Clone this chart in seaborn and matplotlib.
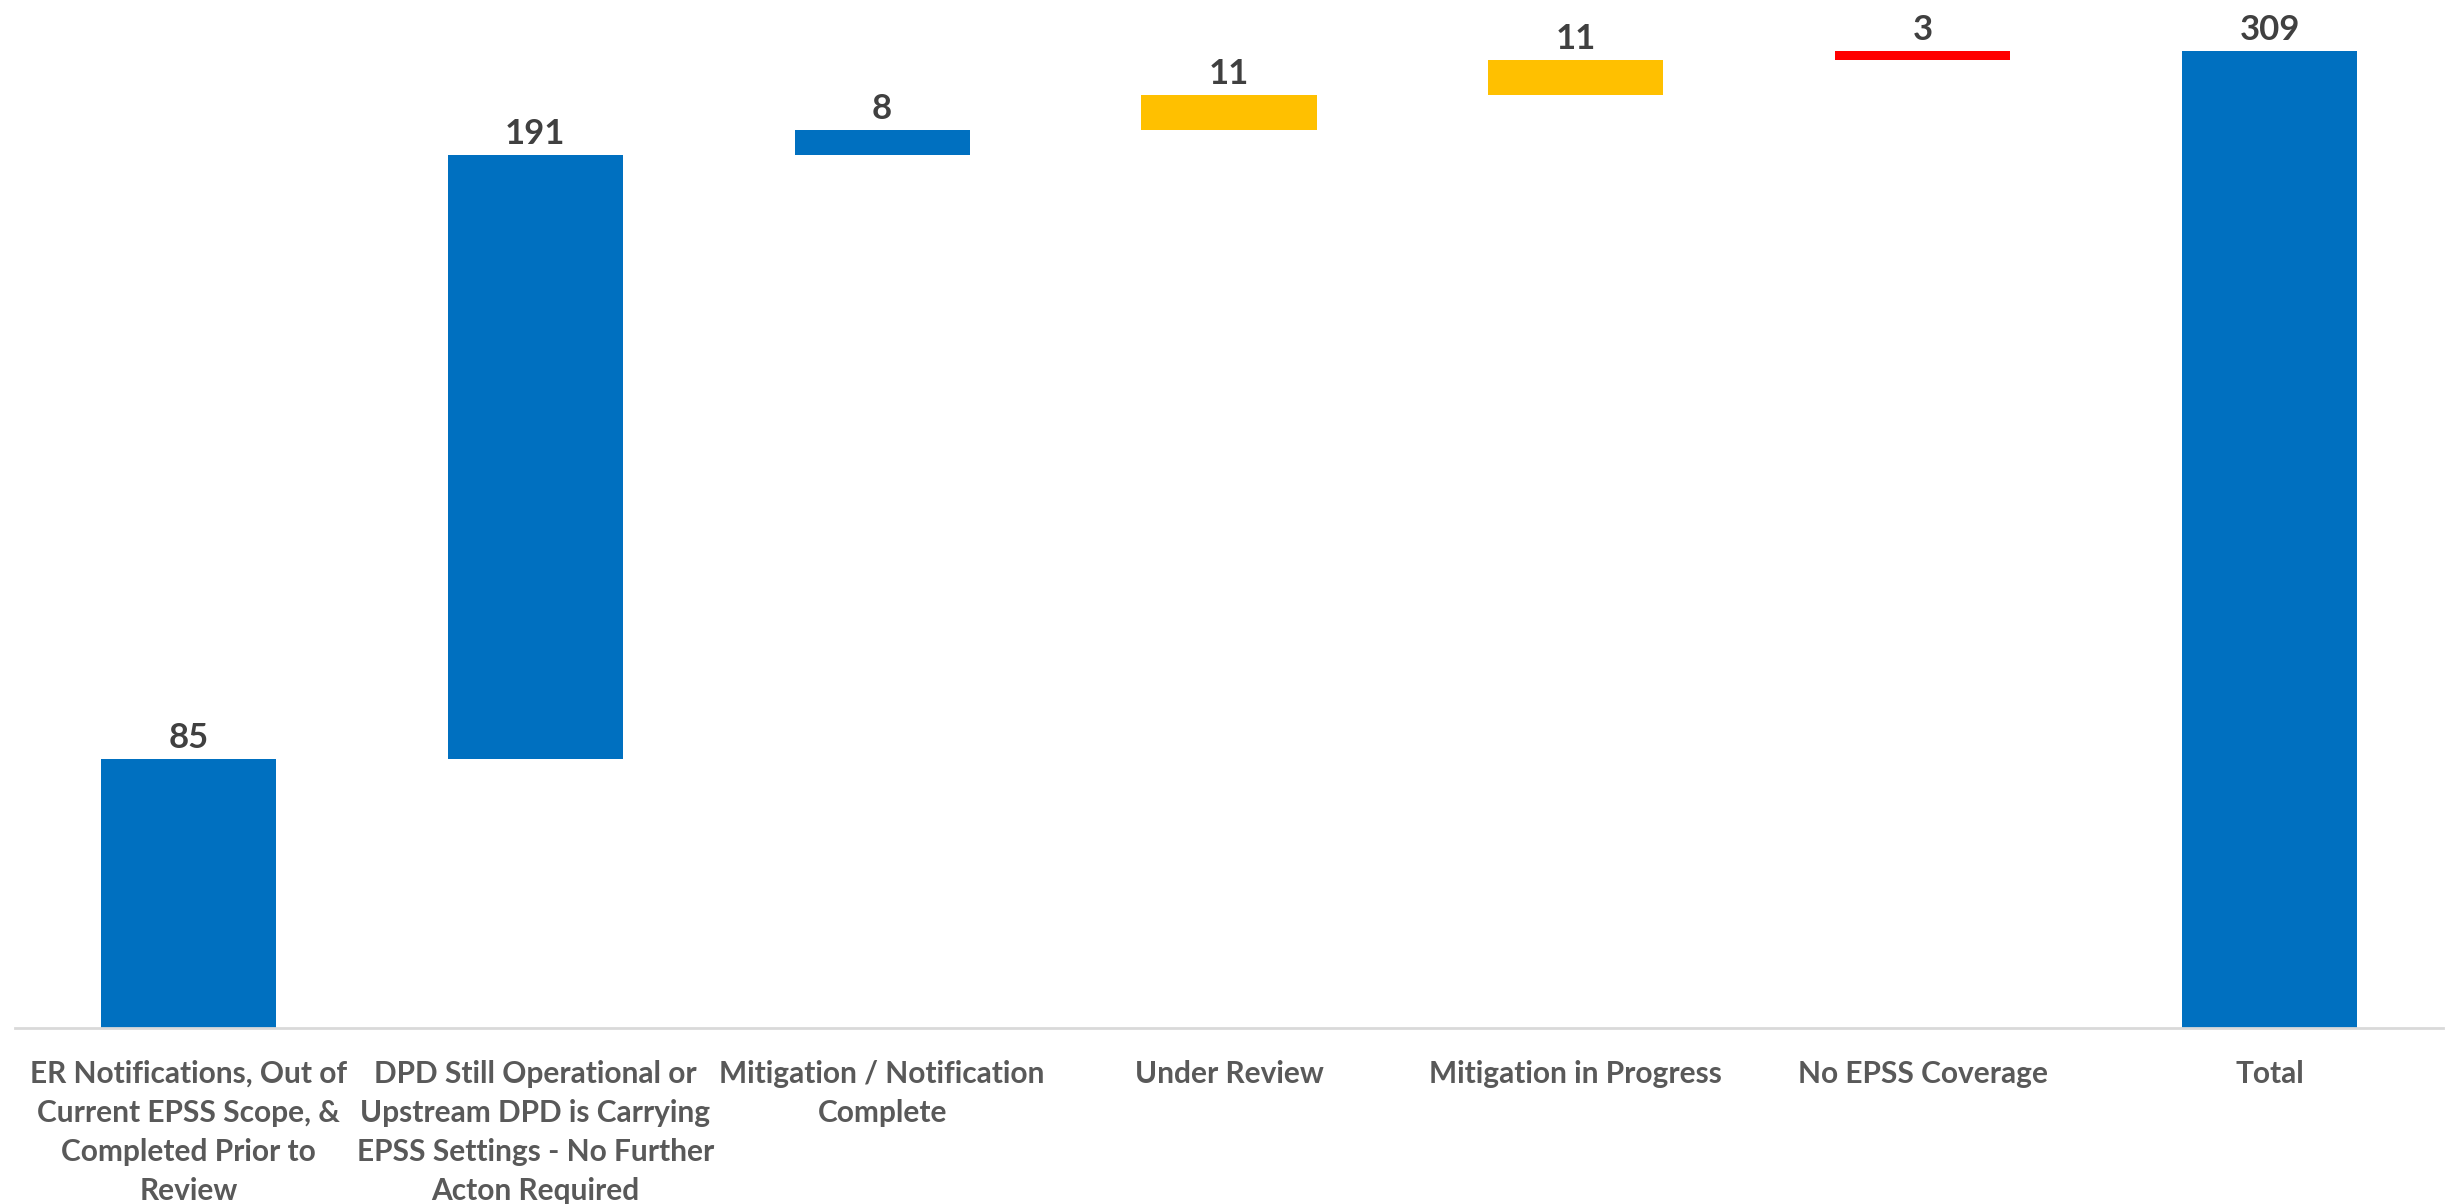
import matplotlib
matplotlib.use("Agg")
import matplotlib.pyplot as plt
import seaborn as sns
import pandas as pd
from matplotlib import font_manager

categories = [
    "ER Notifications, Out of\nCurrent EPSS Scope, &\nCompleted Prior to\nReview",
    "DPD Still Operational or\nUpstream DPD is Carrying\nEPSS Settings - No Further\nActon Required",
    "Mitigation / Notification\nComplete",
    "Under Review",
    "Mitigation in Progress",
    "No EPSS Coverage",
    "Total",
]
values = [85, 191, 8, 11, 11, 3, 309]
is_total = [False, False, False, False, False, False, True]
bar_colors = ["#0070C0", "#0070C0", "#0070C0", "#FFC000", "#FFC000", "#FF0000", "#0070C0"]

# floating bar bottoms: running sum of the steps, totals start at zero
bottoms = []
running = 0
for v, t in zip(values, is_total):
    if t:
        bottoms.append(0)
    else:
        bottoms.append(running)
        running += v

sns.set_theme(style="white")
avail = {f.name for f in font_manager.fontManager.ttflist}
fam = [f for f in ["Liberation Sans Narrow", "Lato", "Open Sans", "DejaVu Sans"] if f in avail]
plt.rcParams["font.family"] = fam

df = pd.DataFrame({"cat": categories, "val": values})

fig = plt.figure(figsize=(24.5, 12.04), dpi=100)
ax = fig.add_axes([15 / 2450, 176 / 1204, 2428 / 2450, 1028 / 1204])
sns.barplot(data=df, x="cat", y="val", hue="cat", palette=bar_colors,
            legend=False, width=0.505, saturation=1, ax=ax)

for patch, b, v in zip(ax.patches, bottoms, values):
    patch.set_y(b)
    patch.set_height(v)
    patch.set_linewidth(0)

for i, (b, v) in enumerate(zip(bottoms, values)):
    ax.text(i, b + v + 1.5, str(v), ha="center", va="bottom",
            fontsize=25, fontweight="bold", color="#404040")

ax.set_xlim(-0.5, 6.5)
ax.set_ylim(0, 325)
ax.set_yticks([])
ax.set_xlabel("")
ax.set_ylabel("")
for s in ["top", "right", "left"]:
    ax.spines[s].set_visible(False)
ax.spines["bottom"].set_color("#D9D9D9")
ax.spines["bottom"].set_linewidth(2)
ax.tick_params(axis="x", length=0, pad=23)
for lab in ax.get_xticklabels():
    lab.set_fontsize(21.5)
    lab.set_fontweight("bold")
    lab.set_color("#595959")
    lab.set_linespacing(1.48)
    lab.set_verticalalignment("top")

fig.savefig("out.png", dpi=100)
